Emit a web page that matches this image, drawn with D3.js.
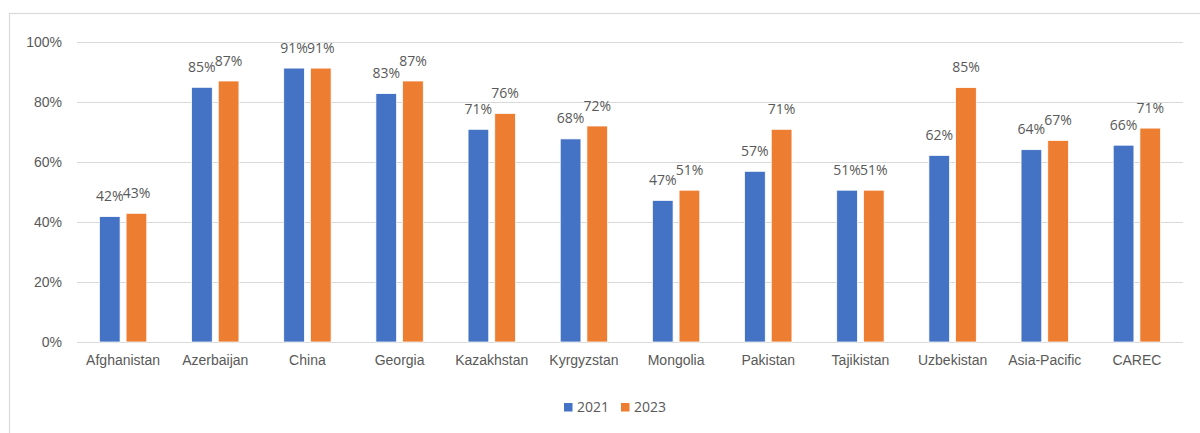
<!DOCTYPE html>
<html>
<head>
<meta charset="utf-8">
<script src="https://cdn.jsdelivr.net/npm/d3@7"></script>
<style>
  body { margin: 0; background: #fff; }
  svg { display: block; font-family: "Open Sans", sans-serif; }
</style>
</head>
<body>
<div id="chart"></div>
<script>
const categories = ['Afghanistan', 'Azerbaijan', 'China', 'Georgia', 'Kazakhstan', 'Kyrgyzstan',
  'Mongolia', 'Pakistan', 'Tajikistan', 'Uzbekistan', 'Asia-Pacific', 'CAREC'];
const seriesNames = ['2021', '2023'];
const values2021 = [0.418, 0.849, 0.913, 0.828, 0.709, 0.677, 0.472, 0.569, 0.506, 0.622, 0.641, 0.656];
const values2023 = [0.429, 0.870, 0.913, 0.870, 0.762, 0.720, 0.506, 0.709, 0.506, 0.848, 0.672, 0.713];
const yTicks = [0, 0.2, 0.4, 0.6, 0.8, 1.0];
const colors = ['#4472C4', '#ED7D31'];

const width = 1200;
const height = 433;
const textColor = '#595959';
const gridColor = '#d9d9d9';
const fontSize = '14px';

// plot area
const plot = { left: 77, right: 1183, top: 42, bottom: 342 };

const svg = d3.select('#chart').append('svg')
  .attr('width', width)
  .attr('height', height);

// chart frame (cropped at right / bottom like the source)
svg.append('rect')
  .attr('x', 9.5).attr('y', 13.5)
  .attr('width', width).attr('height', height)
  .attr('fill', 'none')
  .attr('stroke', gridColor)
  .attr('stroke-width', 1.2);

const x0 = d3.scaleBand()
  .domain(categories)
  .range([plot.left, plot.right])
  .paddingInner(0.486)
  .paddingOuter(0.243);

const x1 = d3.scaleBand()
  .domain(seriesNames)
  .range([0, x0.bandwidth()])
  .paddingInner(0.225);

const y = d3.scaleLinear()
  .domain([0, 1])
  .range([plot.bottom, plot.top]);

// gridlines
svg.append('g')
  .attr('transform', `translate(${plot.left},0)`)
  .call(d3.axisLeft(y).tickValues(yTicks).tickSize(-(plot.right - plot.left)).tickFormat(''))
  .call(g => g.select('.domain').remove())
  .call(g => g.selectAll('line').attr('stroke', gridColor).attr('stroke-width', 1.2));

// y labels
svg.append('g')
  .attr('transform', `translate(${plot.left},0)`)
  .call(d3.axisLeft(y).tickValues(yTicks).tickSize(0).tickPadding(15).tickFormat(d3.format('.0%')))
  .call(g => g.select('.domain').remove())
  .call(g => g.selectAll('text').attr('fill', textColor).style('font-size', fontSize));

// x labels
svg.append('g')
  .attr('transform', `translate(0,${plot.bottom})`)
  .call(d3.axisBottom(x0).tickSize(0).tickPadding(13))
  .call(g => g.select('.domain').remove())
  .call(g => g.selectAll('text').attr('fill', textColor).style('font-size', fontSize));

const rows = categories.map((c, i) => ({ category: c, vals: [values2021[i], values2023[i]] }));

const groups = svg.append('g').selectAll('g')
  .data(rows)
  .join('g')
  .attr('transform', d => `translate(${x0(d.category)},0)`);

const bars = groups.selectAll('g')
  .data(d => d.vals.map((v, j) => ({ series: seriesNames[j], value: v, color: colors[j] })))
  .join('g');

bars.append('rect')
  .attr('x', d => x1(d.series))
  .attr('y', d => y(d.value))
  .attr('width', x1.bandwidth())
  .attr('height', d => y(0) - y(d.value))
  .attr('fill', d => d.color)
  .attr('stroke', '#fff')
  .attr('stroke-width', 0.75);

bars.append('text')
  .attr('x', d => x1(d.series) + x1.bandwidth() / 2)
  .attr('y', d => y(d.value) - 15.5)
  .attr('text-anchor', 'middle')
  .attr('fill', textColor)
  .style('font-size', fontSize)
  .text(d => d3.format('.0%')(d.value));

// legend
const legend = svg.append('g').attr('transform', 'translate(564,403)');
const items = legend.selectAll('g')
  .data(seriesNames)
  .join('g')
  .attr('transform', (d, i) => `translate(${i * 57},0)`);
items.append('rect')
  .attr('width', 8.5).attr('height', 8.5)
  .attr('fill', (d, i) => colors[i]);
items.append('text')
  .attr('x', 13).attr('y', 9)
  .attr('fill', textColor)
  .style('font-size', fontSize)
  .text(d => d);
</script>
</body>
</html>
